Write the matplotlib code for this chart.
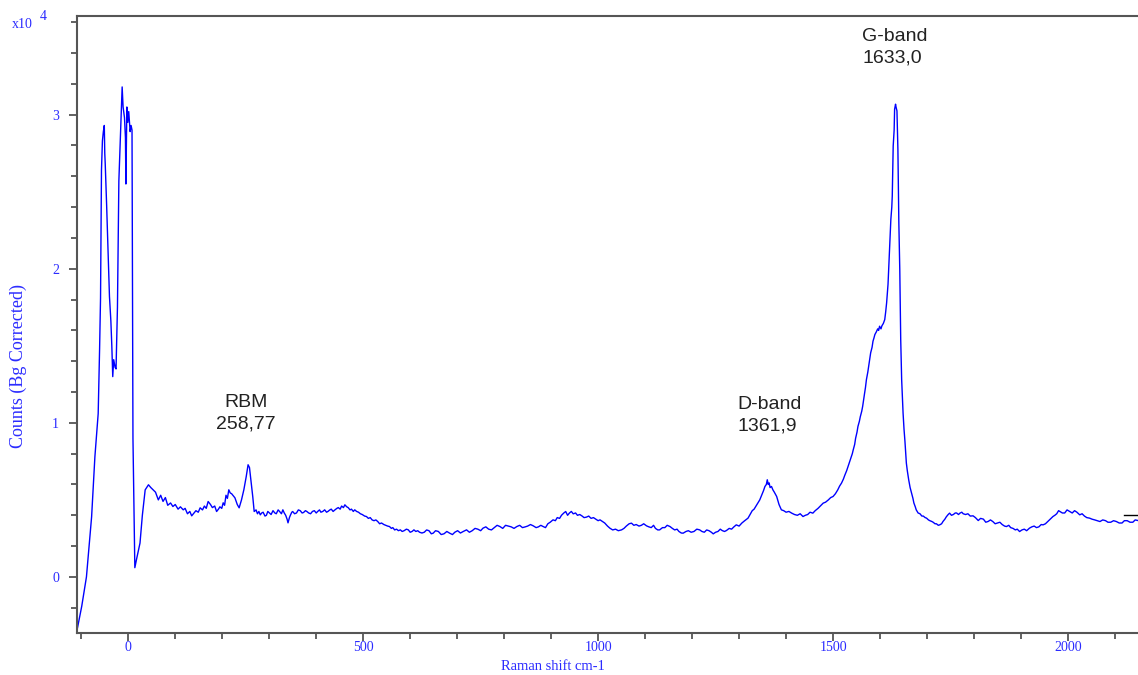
import matplotlib
matplotlib.use("Agg")
import matplotlib.pyplot as plt
from matplotlib.ticker import MultipleLocator, FuncFormatter

# Raman spectrum (x in cm-1, y in counts)
laser_x = [-108, -99, -89, -78, -71, -64, -61, -59, -57, -55, -53, -51, -50, -49, -46, -40,
           -37, -35, -33, -31, -28, -26, -23, -20, -16, -13, -11, -8, -6, -5, -3, -1, 1, 4,
           6, 8, 10, 14, 18, 25, 30, 36, 43, 48, 53, 58, 64]
laser_y = [-3300, -1900, 0, 3900, 7800, 10600, 14800, 18100, 26400, 28300, 28900, 29300,
           27500, 26800, 24100, 18200, 16600, 15000, 13000, 14100, 13600, 13500, 17500,
           25700, 29100, 31800, 30500, 29800, 28500, 25500, 30500, 29500, 30200, 28900,
           29300, 29000, 9000, 600, 1200, 2200, 4000, 5650, 5980, 5800, 5650, 5500, 5000]

rbm_x = [69, 74, 79, 84, 90, 95, 100, 106, 111, 117, 121, 126, 131, 135, 140, 144, 149, 153,
         158, 162, 166, 170, 175, 179, 184, 188, 192, 195, 199, 202, 205, 208, 211, 214, 217,
         220, 224, 227, 232, 236, 241, 246, 251, 255, 258, 261, 265, 268, 272, 275, 278, 281,
         284, 287, 291, 294, 297, 300, 304, 308, 312, 315, 319, 322, 326, 329, 332, 335, 338,
         340, 343, 345, 348, 350, 354, 358, 362, 366, 370, 373, 377, 380, 384, 388, 392, 396,
         400, 403, 407, 410, 414, 418, 422, 425, 429, 432, 436, 440, 444, 447, 451, 454, 458,
         461, 465, 468, 472, 475, 479, 482, 486, 490, 494, 498, 503, 507, 511, 515, 519, 523,
         527, 531, 535, 539, 544, 548, 552, 556, 560, 563, 567, 571, 575, 579, 583, 587, 592,
         596, 600, 604, 608, 612, 616, 620]
rbm_y = [5300, 4900, 5150, 4650, 4800, 4570, 4700, 4400, 4550, 4355, 4450, 4100, 4250, 3965,
         4150, 4300, 4200, 4485, 4350, 4600, 4450, 4895, 4700, 4500, 4600, 4245, 4400, 4550,
         4450, 4810, 4650, 5300, 5100, 5655, 5450, 5400, 5250, 5135, 4700, 4485, 5000, 5655,
         6500, 7280, 7100, 6305, 5200, 4245, 4350, 4100, 4250, 4030, 4150, 4200, 3950, 4000,
         4250, 4160, 4050, 4300, 4150, 4100, 4350, 4250, 4100, 4355, 4150, 4000, 3750, 3510,
         3850, 4000, 4200, 4245, 4100, 4150, 4350, 4300, 4150, 4180, 4300, 4250, 4150, 4100,
         4250, 4300, 4150, 4245, 4350, 4200, 4250, 4355, 4200, 4250, 4350, 4400, 4250, 4355,
         4450, 4500, 4400, 4600, 4500, 4680, 4550, 4500, 4350, 4400, 4250, 4355, 4250, 4200,
         4100, 4050, 3950, 3920, 3800, 3850, 3700, 3650, 3700, 3595, 3450, 3500, 3400, 3350,
         3300, 3270, 3150, 3200, 3050, 3100, 3000, 3055, 2950, 3000, 3100, 3055, 2900, 2950,
         3055, 2950, 3000, 2900]

mid_x = [625, 630, 635, 640, 645, 649, 654, 660, 666, 672, 678, 684, 690, 695, 701, 707, 713,
         720, 726, 732, 738, 744, 750, 755, 761, 767, 773, 779, 785, 791, 797, 803, 809, 815,
         821, 827, 833, 839, 845, 850, 856, 862, 868, 873, 878, 883, 888, 893, 898, 904, 909,
         913, 918, 922, 927, 931, 935, 939, 943, 947, 952, 956, 961, 966, 970, 975, 980, 985,
         990, 995, 1000, 1004, 1009, 1014, 1020, 1025, 1031, 1037, 1043, 1050, 1055, 1060,
         1066, 1071, 1076, 1081, 1087, 1092, 1097, 1103, 1108, 1113, 1118, 1122, 1127, 1131,
         1137, 1142, 1147, 1153, 1158, 1163, 1168, 1172, 1177, 1181, 1187, 1192, 1198, 1204,
         1210, 1216, 1221, 1226, 1231, 1236, 1241, 1245, 1250, 1255, 1260, 1264, 1269, 1273,
         1279, 1284, 1289, 1294, 1300, 1306, 1312, 1319]
mid_y = [2850, 2900, 3050, 3000, 2800, 2840, 3000, 2950, 2750, 2800, 2950, 2840, 2750, 2900,
         3000, 2850, 2950, 3055, 2900, 3000, 3150, 3100, 3000, 3165, 3250, 3100, 3050, 3200,
         3350, 3270, 3150, 3350, 3300, 3250, 3150, 3270, 3350, 3200, 3250, 3300, 3400, 3315,
         3200, 3250, 3350, 3270, 3200, 3450, 3550, 3705, 3650, 3850, 3800, 4000, 4150, 4245,
         4000, 4150, 4250, 4095, 4150, 4000, 4050, 3950, 3850, 3880, 3950, 3800, 3850, 3750,
         3650, 3705, 3600, 3500, 3300, 3165, 3050, 3100, 3000, 3055, 3150, 3300, 3450, 3490,
         3350, 3400, 3300, 3350, 3450, 3315, 3250, 3200, 3350, 3150, 3050, 3055, 3200, 3200,
         3350, 3270, 3150, 3050, 3100, 2950, 2850, 2840, 2950, 3000, 2900, 2950, 3100, 3055,
         2950, 2900, 3050, 3000, 2900, 2795, 2900, 2950, 3100, 3010, 2950, 3010, 3150, 3100,
         3250, 3380, 3300, 3500, 3650, 3815]

dg_x = [1323, 1328, 1332, 1336, 1340, 1344, 1348, 1352, 1355, 1358, 1360, 1362, 1364, 1366,
        1369, 1372, 1375, 1380, 1385, 1390, 1395, 1400, 1406, 1412, 1418, 1424, 1430, 1436,
        1441, 1446, 1451, 1457, 1462, 1468, 1473, 1479, 1484, 1490, 1495, 1500, 1505, 1510,
        1514, 1518, 1522, 1525, 1529, 1532, 1535, 1538, 1541, 1543, 1546, 1548, 1551, 1553,
        1556, 1558, 1561, 1563, 1565, 1567, 1569, 1571, 1574, 1576, 1578, 1580, 1583, 1585,
        1587, 1589, 1592, 1595, 1597, 1599, 1602, 1604, 1607, 1610, 1612, 1614, 1617, 1619,
        1621, 1623, 1625, 1626, 1628, 1630, 1631, 1633, 1634, 1636, 1638, 1640, 1642, 1644,
        1646, 1649, 1651, 1653, 1656, 1658, 1661, 1664, 1667, 1670, 1672, 1675, 1677, 1681,
        1685, 1689, 1692, 1696, 1699, 1703, 1706, 1710, 1713, 1717, 1720, 1724, 1727, 1731,
        1734, 1738, 1741, 1745, 1748, 1752, 1756, 1760, 1763, 1767, 1770, 1774, 1777, 1782]
dg_y = [4030, 4300, 4400, 4600, 4790, 5000, 5300, 5600, 5870, 6000, 6305, 6000, 6100, 5800,
        5870, 5650, 5500, 5220, 4700, 4355, 4300, 4200, 4250, 4140, 4050, 4000, 4100, 3920,
        4000, 4050, 4200, 4140, 4300, 4450, 4600, 4790, 4850, 5000, 5150, 5220, 5400, 5650,
        5900, 6090, 6350, 6600, 6900, 7170, 7450, 7700, 8000, 8255, 8600, 9000, 9400, 9770,
        10100, 10400, 10750, 11070, 11500, 11900, 12300, 12805, 13300, 13700, 14100, 14540,
        14900, 15300, 15500, 15730, 15900, 16100, 16000, 16270, 16100, 16300, 16450, 16700,
        17200, 17790, 19000, 20390, 21800, 23200, 24000, 24720, 27970, 29000, 30355, 30680,
        30500, 30245, 27755, 22990, 19955, 15405, 12800, 10640, 9600, 8800, 7390, 6900, 6300,
        5800, 5440, 5100, 4800, 4550, 4355, 4150, 4100, 3950, 3950, 3850, 3815, 3700, 3650,
        3600, 3550, 3450, 3450, 3350, 3380, 3450, 3600, 3750, 3900, 4050, 4140, 4000, 4050,
        4150, 4150, 4050, 4140, 4200, 4100, 4050]

tail_x = [1787, 1792, 1798, 1803, 1809, 1814, 1820, 1825, 1830, 1835, 1840, 1845, 1850, 1855,
          1860, 1865, 1869, 1874, 1878, 1883, 1888, 1892, 1897, 1902, 1907, 1912, 1918, 1923,
          1928, 1933, 1938, 1943, 1947, 1952, 1957, 1962, 1968, 1972, 1976, 1980, 1983, 1988,
          1993, 1998, 2004, 2009, 2014, 2019, 2025, 2030, 2035, 2040, 2046, 2051, 2057, 2062,
          2068, 2074, 2080, 2085, 2091, 2097, 2103, 2109, 2115, 2120, 2126, 2132, 2138, 2143,
          2149]
tail_y = [4100, 3950, 3965, 3850, 3660, 3800, 3750, 3550, 3600, 3700, 3595, 3450, 3500, 3550,
          3400, 3300, 3270, 3350, 3200, 3150, 3050, 3100, 2945, 3050, 3100, 3000, 3165, 3250,
          3300, 3200, 3250, 3400, 3380, 3450, 3600, 3750, 3920, 4000, 4100, 4300, 4245, 4150,
          4150, 4350, 4245, 4150, 4300, 4200, 4030, 4100, 3950, 3850, 3815, 3750, 3700, 3650,
          3595, 3700, 3650, 3550, 3550, 3650, 3595, 3500, 3500, 3650, 3650, 3550, 3550, 3700,
          3660]

shift = laser_x + rbm_x + mid_x + dg_x + tail_x
counts = laser_y + rbm_y + mid_y + dg_y + tail_y

# peak labels: (text, x, y, alignment)
peak_labels = [("RBM\n258,77", 251, 11900, "center"),
               ("D-band\n1361,9", 1296, 11750, "left"),
               ("G-band\n1633,0", 1562, 35600, "left")]

marker_x = [2120, 2149]
marker_y = [4030, 4030]

blue = "#2b2bff"
axis_grey = "#555555"

fig = plt.figure(figsize=(11.38, 6.75), dpi=100)
ax = fig.add_axes([0.0677, 0.0622, 0.9323, 0.914])

ax.plot(shift, counts, color="#0000ff", linewidth=1.0)
ax.plot(marker_x, marker_y, color="black", linewidth=1.0)

for text, x, y, ha in peak_labels:
    ax.text(x, y, text, ha=ha, va="top", multialignment=ha, fontsize=14,
            family="Liberation Sans", color="#222222", linespacing=1.35)

ax.set_xlim(-109, 2149)
ax.set_ylim(-3640, 36400)

ax.xaxis.set_major_locator(MultipleLocator(500))
ax.xaxis.set_minor_locator(MultipleLocator(100))
ax.yaxis.set_major_locator(MultipleLocator(10000))
ax.yaxis.set_minor_locator(MultipleLocator(2000))
ax.yaxis.set_major_formatter(FuncFormatter(lambda v, p: f"{v / 10000:.0f}"))

ax.tick_params(which="both", direction="out", color=axis_grey, width=1.3,
               labelcolor=blue, labelsize=10)
ax.tick_params(which="major", length=6)
ax.tick_params(which="minor", length=4)
ax.tick_params(axis="x", pad=-0.5)
ax.tick_params(axis="y", pad=7)
for lab in ax.get_xticklabels() + ax.get_yticklabels():
    lab.set_family("Liberation Serif")

for side in ["left", "top", "bottom"]:
    ax.spines[side].set_color(axis_grey)
    ax.spines[side].set_linewidth(1.5)
ax.spines["right"].set_visible(False)

# axis titles placed on the figure, as in the original software export
fig.text(553 / 1138, 2 / 675, "Raman shift cm-1", family="Liberation Serif", fontsize=10.5,
         color=blue, ha="center", va="bottom")
fig.text(18 / 1138, 1 - 366 / 675, "Counts (Bg Corrected)", family="Liberation Serif",
         fontsize=13, color=blue, ha="center", va="center", rotation=90)

# exponent in the top left corner
fig.text(12 / 1138, 1 - 28 / 675, "x10", family="Liberation Serif", fontsize=10, color=blue)
fig.text(40 / 1138, 1 - 20 / 675, "4", family="Liberation Serif", fontsize=10, color=blue)

plt.savefig("out.png", dpi=100)
